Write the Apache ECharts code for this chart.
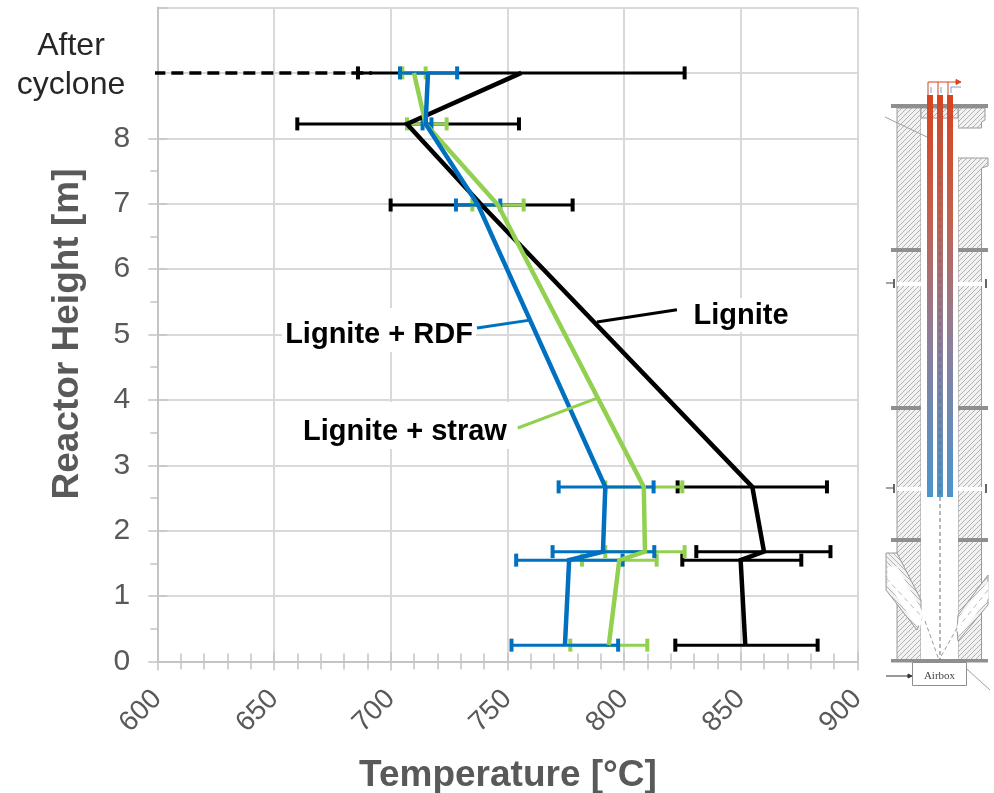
<!DOCTYPE html>
<html><head><meta charset="utf-8">
<style>html,body{margin:0;padding:0;background:#fff}#c{width:994px;height:793px}</style>
<script src="https://cdn.jsdelivr.net/npm/echarts@6/dist/echarts.min.js"></script>
</head><body><div id="c"></div>
<script>
const heights      = [9, 8.22, 6.98, 2.67, 1.68, 1.55, 0.25];
const ligniteMean  = [756, 707, 739, 855, 860, 850, 852];
const ligniteLow   = [686, 660, 700, 823, 831, 825, 822];
const ligniteHigh  = [826, 755, 778, 887, 888.5, 876, 883];
const strawMean    = [710, 715, 746, 808.5, 809, 798, 793.5];
const strawLow     = [705, 707, 735, 792, 792, 782, 777];
const strawHigh    = [715, 724, 757, 825, 826, 814, 810];
const rdfMean      = [716, 715, 737.5, 792, 791, 776.5, 774.7];
const rdfLow       = [704, 713.7, 728, 772, 769.4, 753.8, 751.8];
const rdfHigh      = [728.5, 717.5, 747, 812.7, 813, 799.4, 797.5];
const dashedExtension = [[598.3, 9], [692, 9]];
const leaderLignite = [[788.4, 5.19], [822.7, 5.38]];
const leaderRdf     = [[737, 5.10], [759.7, 5.22]];
const leaderStraw   = [[754.5, 3.57], [788.8, 4.03]];
const majorHeights  = [0, 1, 2, 3, 4, 5, 6, 7, 8];
const minorHeights  = [0.5, 1.5, 2.5, 3.5, 4.5, 5.5, 6.5, 7.5];
const BLACK = '#000000', GREEN = '#92d050', BLUE = '#0070c0', GREY = '#595959';
const FONT = '"Liberation Sans", Arial, sans-serif';

function errSeries(color, low, high) {
  return {
    type: 'custom', silent: true, xAxisIndex: 0, yAxisIndex: 0, clip: false,
    data: heights.map((h, i) => [low[i], high[i], h]),
    encode: { x: [0, 1], y: 2 },
    renderItem: (p, api) => {
      const a = api.coord([api.value(0), api.value(2)]);
      const b = api.coord([api.value(1), api.value(2)]);
      const st = { stroke: color, lineWidth: 3 }, cap = { stroke: color, lineWidth: 4 };
      return { type: 'group', children: [
        { type: 'line', shape: { x1: a[0], y1: a[1], x2: b[0], y2: b[1] }, style: st },
        { type: 'line', shape: { x1: a[0], y1: a[1] - 6.5, x2: a[0], y2: a[1] + 6.5 }, style: cap },
        { type: 'line', shape: { x1: b[0], y1: b[1] - 6.5, x2: b[0], y2: b[1] + 6.5 }, style: cap }
      ]};
    }
  };
}
function lineSeries(color, vals) {
  return { type: 'line', silent: true, symbol: 'none', lineStyle: { color, width: 4.5, join: 'miter' },
    data: vals.map((v, i) => [v, heights[i]]) };
}
function leader(color, pts) {
  return { type: 'line', silent: true, symbol: 'none', lineStyle: { color, width: 3 }, data: pts };
}

// ---- hatch pattern for the reactor schematic
function hatch(dir) {
  const c = document.createElement('canvas'); c.width = 5; c.height = 5;
  const g = c.getContext('2d'); g.fillStyle = '#f2f2f2'; g.fillRect(0, 0, 5, 5);
  g.strokeStyle = '#aaaaaa'; g.lineWidth = 0.9; g.beginPath();
  if (dir > 0) { g.moveTo(-1, 6); g.lineTo(6, -1); g.moveTo(-1, 1); g.lineTo(1, -1); g.moveTo(4, 6); g.lineTo(6, 4); }
  else { g.moveTo(-1, -1); g.lineTo(6, 6); g.moveTo(-1, 4); g.lineTo(1, 6); g.moveTo(4, -1); g.lineTo(6, 1); }
  g.stroke(); return c;
}
const H = { image: hatch(1), repeat: 'repeat' }, H2 = { image: hatch(-1), repeat: 'repeat' };
const poly = (pts, fill, stroke) => ({ type: 'polygon', silent: true, shape: { points: pts }, style: { fill, stroke: stroke || '#9a9a9a', lineWidth: 1 } });
const rect = (x, y, w, h, fill, z) => ({ type: 'rect', silent: true, z: z || 0, shape: { x, y, width: w, height: h }, style: { fill } });
const seg = (x1, y1, x2, y2, stroke, w, dash) => ({ type: 'line', silent: true, shape: { x1, y1, x2, y2 }, style: { stroke, lineWidth: w || 1, lineDash: dash } });
const tubeGrad = { type: 'linear', x: 0, y: 0, x2: 0, y2: 1, colorStops: [
  { offset: 0, color: '#d8431f' }, { offset: 0.3, color: '#c4604e' }, { offset: 0.62, color: '#8c7f9c' }, { offset: 1, color: '#4a95cc' }] };
const txt = (x, y, text, size, weight, fill, extra) => Object.assign({ type: 'text', silent: true, z: 20, x, y,
  style: { text, fill, font: (weight || 'normal') + ' ' + size + 'px ' + FONT, align: 'center', verticalAlign: 'middle' } }, extra || {});

const schematic = [
  // walls
  poly([[897,108],[921,108],[921,660],[897,660]], H),
  poly([[958,108],[985,108],[985,120],[981.5,122],[981.5,128],[958,128]], H),
  poly([[958,158],[988,158],[988,166],[981.5,168],[981.5,660],[958,660]], H),
  rect(921, 108, 37, 552, '#ffffff'),
  poly([[921,108],[958,108],[958,118],[921,118]], H),
  // inclined feeds
  poly([[886,553],[897,553],[921,600],[921,620],[917,630],[886,590]], H2),
  poly([[888,567],[897,567],[922,612],[920,626],[914,622],[888,583]], '#ffffff', '#ffffff'),
  poly([[988,575],[988,605],[958,641],[957,630],[958,615]], H),
  poly([[988,582],[988,598],[960,634],[957,630],[960,616]], '#ffffff', '#ffffff'),
  seg(886, 578, 923, 618, '#bbbbbb', 1, [5, 4]),
  seg(988, 590, 960, 625, '#bbbbbb', 1, [5, 4]),
  seg(925, 621, 939, 660, '#999999', 1, [4, 3]),
  seg(957, 628, 939, 660, '#999999', 1, [4, 3]),
  // flanges
  rect(891, 104, 97, 4, '#8f8f8f'),
  rect(891, 248, 30, 4, '#8f8f8f'), rect(958, 248, 30, 4, '#8f8f8f'),
  rect(891, 406, 30, 4, '#8f8f8f'), rect(958, 406, 30, 4, '#8f8f8f'),
  rect(891, 538, 30, 4, '#8f8f8f'), rect(958, 538, 30, 4, '#8f8f8f'),
  rect(891, 659, 97, 3.5, '#8f8f8f'),
  // ports
  rect(897, 282, 24, 4, '#ffffff'), rect(958, 282, 24, 4, '#ffffff'),
  rect(897, 487, 24, 4, '#ffffff'), rect(958, 487, 24, 4, '#ffffff'),
  seg(886, 283, 894, 283, '#444444', 1), seg(894, 279, 894, 288, '#666666', 2), seg(986, 279, 986, 288, '#666666', 2),
  seg(886, 488, 894, 488, '#444444', 1), seg(894, 484, 894, 493, '#666666', 2), seg(986, 484, 986, 493, '#666666', 2),
  // thin pointer
  seg(885, 117, 927, 137, '#a0a0a0', 1),
  seg(958, 661, 990, 690, '#a0a0a0', 1),
  // tubes
  rect(927, 95, 6, 402, tubeGrad), rect(937, 95, 6, 402, tubeGrad), rect(947, 95, 6, 402, tubeGrad),
  seg(940, 105, 940, 660, '#6d6d7f', 1, [4, 3]),
  // manifold
  seg(928, 82, 958, 82, '#d8431f', 1), seg(928, 82, 928, 95, '#d8431f', 1), seg(938, 82, 938, 95, '#d8431f', 1), seg(948, 82, 948, 95, '#d8431f', 1),
  poly([[956,79.5],[961,82],[956,84.5]], '#d8431f', '#d8431f'),
  seg(931, 87, 931, 93, '#6aa5d5', 1), seg(941, 87, 941, 93, '#6aa5d5', 1), seg(951, 87, 951, 93, '#6aa5d5', 1), seg(951, 87, 961, 87, '#6aa5d5', 1),
  // airbox
  { type: 'rect', silent: true, shape: { x: 912.5, y: 662.5, width: 54, height: 23 }, style: { fill: '#ffffff', stroke: '#8e8e8e', lineWidth: 1 } },
  { type: 'text', silent: true, x: 939.5, y: 676, style: { text: 'Airbox', fill: '#444444', font: '11px "Liberation Serif", serif', align: 'center', verticalAlign: 'middle' } },
  seg(886, 676, 909, 676, '#333333', 1),
  poly([[908,674],[912,676],[908,678]], '#333333', '#333333')
];

const texts = [
  rect(690, 298, 102, 34, '#ffffff', 10),
  rect(282, 308, 194, 44, '#ffffff', 10),
  rect(300, 402, 212, 47, '#ffffff', 10),
  txt(71, 46, 'After', 32, 'normal', '#262626'),
  txt(71, 85, 'cyclone', 32, 'normal', '#262626'),
  txt(741, 316, 'Lignite', 29, 'bold', '#000000'),
  txt(379, 335, 'Lignite + RDF', 29, 'bold', '#000000'),
  txt(405, 432, 'Lignite + straw', 29, 'bold', '#000000'),
  txt(508, 776, 'Temperature [°C]', 37, 'bold', GREY),
  txt(68, 334, 'Reactor Height [m]', 37, 'bold', GREY, { rotation: Math.PI / 2 })
];

const axisLine = { lineStyle: { color: '#c4c4c4', width: 2 } };
const tickStyle = { color: '#c4c4c4', width: 1.5 };
const grid = { left: 157.3, top: 7.5, width: 700, height: 654, containLabel: false };
const xBase = { type: 'value', min: 600, max: 900, interval: 50, position: 'bottom' };
const yBase = { type: 'value', min: 0, max: 10, interval: 1, position: 'left' };
const hiddenY = { axisLine: { show: false }, axisLabel: { show: false }, splitLine: { show: false } };

const option = {
  animation: false, backgroundColor: '#fff', grid,
  xAxis: [
    Object.assign({}, xBase, {
      axisLine, axisTick: { show: true, length: 9, lineStyle: tickStyle },
      minorTick: { show: true, splitNumber: 5, length: 8, lineStyle: tickStyle },
      splitLine: { show: true, lineStyle: { color: '#d9d9d9', width: 2 } },
      axisLabel: { rotate: 45, fontSize: 28, color: GREY, fontFamily: FONT, margin: 33, showMaxLabel: true, showMinLabel: true }
    }),
    Object.assign({}, xBase, {
      axisLine: { show: false }, axisLabel: { show: false }, splitLine: { show: false },
      minorTick: { show: true, splitNumber: 5, length: 8, lineStyle: tickStyle },
      axisTick: { show: true, inside: true, length: 9, lineStyle: tickStyle }
    })
  ],
  yAxis: [
    Object.assign({}, yBase, {
      axisLine, axisTick: { show: false },
      splitLine: { show: true, lineStyle: { color: '#d9d9d9', width: 2 } },
      axisLabel: { fontSize: 30, color: GREY, fontFamily: FONT, margin: 27, formatter: v => (v <= 8 ? String(v) : '') }
    }),
    Object.assign({}, yBase, hiddenY, {
      axisTick: { show: true, length: 9, lineStyle: tickStyle, customValues: majorHeights }
    }),
    Object.assign({}, yBase, hiddenY, {
      axisTick: { show: true, inside: true, length: 10, lineStyle: tickStyle, customValues: majorHeights.concat([10]) }
    }),
    Object.assign({}, yBase, hiddenY, {
      axisTick: { show: true, length: 7, lineStyle: tickStyle, customValues: minorHeights }
    })
  ],
  series: [
    errSeries(BLACK, ligniteLow, ligniteHigh),
    errSeries(GREEN, strawLow, strawHigh),
    errSeries(BLUE, rdfLow, rdfHigh),
    lineSeries(BLACK, ligniteMean),
    lineSeries(GREEN, strawMean),
    lineSeries(BLUE, rdfMean),
    { type: 'line', silent: true, symbol: 'none', clip: false, lineStyle: { color: BLACK, width: 3.5, type: [12, 6] }, data: dashedExtension },
    leader(BLACK, leaderLignite), leader(BLUE, leaderRdf), leader(GREEN, leaderStraw)
  ],
  graphic: { elements: schematic.concat(texts) }
};
echarts.init(document.getElementById('c'), null, { renderer: 'canvas' }).setOption(option);
</script></body></html>
